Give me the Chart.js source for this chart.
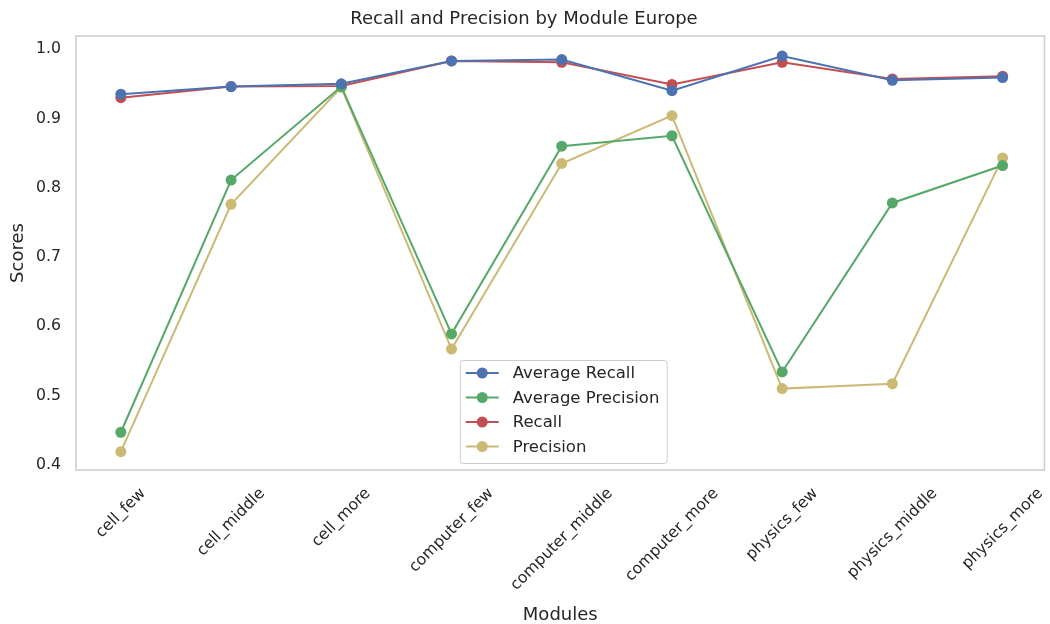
<!DOCTYPE html>
<html>
<head>
<meta charset="utf-8">
<script src="https://cdn.jsdelivr.net/npm/chart.js@4/dist/chart.umd.min.js"></script>
<style>
  html, body { margin: 0; padding: 0; background: #fff; }
  #wrap { width: 1050px; height: 624px; }
</style>
</head>
<body>
<div id="wrap"><canvas id="chart" width="1050" height="624"></canvas></div>
<script>
const modules = ['cell_few', 'cell_middle', 'cell_more', 'computer_few', 'computer_middle',
    'computer_more', 'physics_few', 'physics_middle', 'physics_more'];
const avgRecall = [0.935, 0.946, 0.950, 0.983, 0.985, 0.940, 0.990, 0.955, 0.959];
const avgPrecision = [0.447, 0.811, 0.946, 0.589, 0.860, 0.875, 0.534, 0.778, 0.832];
const recall = [0.930, 0.946, 0.947, 0.983, 0.981, 0.949, 0.981, 0.957, 0.961];
const precision = [0.419, 0.776, 0.945, 0.567, 0.835, 0.904, 0.510, 0.517, 0.843];
const yTicks = [0.4, 0.5, 0.6, 0.7, 0.8, 0.9, 1.0];

const textColor = '#262626';
const fontFamily = "'DejaVu Sans', sans-serif";

function series(label, values, color) {
    return {
        label: label,
        data: values.map((v, i) => ({ x: i, y: v })),
        borderColor: color,
        backgroundColor: color,
        borderWidth: 2,
        pointRadius: 5.5,
        pointHoverRadius: 5.5,
        pointBorderWidth: 0,
        tension: 0
    };
}

// plot frame (all four sides, like matplotlib spines)
const framePlugin = {
    id: 'frame',
    afterDatasetsDraw(chart) {
        const a = chart.chartArea;
        const ctx = chart.ctx;
        ctx.save();
        ctx.strokeStyle = '#cccccc';
        ctx.lineWidth = 1.5;
        ctx.strokeRect(a.left, a.top, a.right - a.left, a.bottom - a.top);
        ctx.restore();
    }
};

// rotated category labels centred on the tick
const xLabelPlugin = {
    id: 'xLabels',
    afterDraw(chart) {
        const ctx = chart.ctx;
        const xs = chart.scales.x;
        const top = chart.chartArea.bottom + 15;
        ctx.save();
        ctx.font = '15.7px ' + fontFamily;
        ctx.fillStyle = textColor;
        ctx.textAlign = 'center';
        ctx.textBaseline = 'middle';
        modules.forEach((m, i) => {
            const w = ctx.measureText(m).width;
            const half = (w + 17) * Math.SQRT1_2 / 2;
            ctx.save();
            ctx.translate(xs.getPixelForValue(i), top + half);
            ctx.rotate(-Math.PI / 4);
            ctx.fillText(m, 0, 0);
            ctx.restore();
        });
        ctx.restore();
    }
};

// legend box inside the plot, lower centre
const legendPlugin = {
    id: 'innerLegend',
    afterDraw(chart) {
        const ctx = chart.ctx;
        const a = chart.chartArea;
        const boxW = 207, boxH = 103;
        const x0 = (a.left + a.right) / 2 - boxW / 2 + 3;
        const y0 = a.bottom - 7 - boxH;
        ctx.save();
        ctx.fillStyle = 'rgba(255,255,255,0.8)';
        ctx.strokeStyle = '#cccccc';
        ctx.lineWidth = 1;
        ctx.beginPath();
        ctx.roundRect(x0 + 0.5, y0 + 0.5, boxW, boxH, 3);
        ctx.fill();
        ctx.stroke();
        ctx.font = '16.5px ' + fontFamily;
        ctx.textBaseline = 'middle';
        chart.data.datasets.forEach((ds, i) => {
            const cy = y0 + 13 + i * 24.5;
            ctx.strokeStyle = ds.borderColor;
            ctx.lineWidth = 2;
            ctx.beginPath();
            ctx.moveTo(x0 + 6, cy);
            ctx.lineTo(x0 + 39, cy);
            ctx.stroke();
            ctx.fillStyle = ds.borderColor;
            ctx.beginPath();
            ctx.arc(x0 + 22.5, cy, 5.5, 0, Math.PI * 2);
            ctx.fill();
            ctx.fillStyle = textColor;
            ctx.fillText(ds.label, x0 + 53, cy + 1);
        });
        ctx.restore();
    }
};

new Chart('chart', {
    type: 'line',
    data: {
        datasets: [
            series('Average Recall', avgRecall, '#4C72B0'),
            series('Average Precision', avgPrecision, '#55A868'),
            series('Recall', recall, '#C44E52'),
            series('Precision', precision, '#CCB974')
        ]
    },
    options: {
        responsive: false,
        animation: false,
        events: [],
        layout: { padding: { left: 0, right: 2, top: 0, bottom: 0 } },
        plugins: {
            legend: { display: false },
            tooltip: { enabled: false },
            title: {
                display: true,
                text: 'Recall and Precision by Module Europe',
                color: textColor,
                font: { family: fontFamily, size: 18, weight: 'normal', lineHeight: 1.2 },
                padding: { top: 9, bottom: 5.4 }
            }
        },
        scales: {
            x: {
                type: 'linear',
                min: -0.407,
                max: 8.38,
                grid: { display: false, drawTicks: false },
                border: { display: false },
                ticks: { display: false },
                title: {
                    display: true,
                    text: 'Modules',
                    color: textColor,
                    font: { family: fontFamily, size: 18 },
                    padding: { top: 0, bottom: -2 }
                },
                afterFit(scale) { scale.height = 154; }
            },
            y: {
                min: 0.3925,
                max: 1.019,
                grid: { display: false, drawTicks: false },
                border: { display: false },
                afterBuildTicks(scale) {
                    scale.ticks = yTicks.map(v => ({ value: v }));
                },
                ticks: {
                    color: textColor,
                    font: { family: fontFamily, size: 15.7 },
                    padding: 15,
                    callback: v => v.toFixed(1)
                },
                title: {
                    display: true,
                    text: 'Scores',
                    color: textColor,
                    font: { family: fontFamily, size: 18 },
                    padding: { top: 8, bottom: 0 }
                },
                afterFit(scale) { scale.width = 76; }
            }
        }
    },
    plugins: [framePlugin, xLabelPlugin, legendPlugin]
});
</script>
</body>
</html>
